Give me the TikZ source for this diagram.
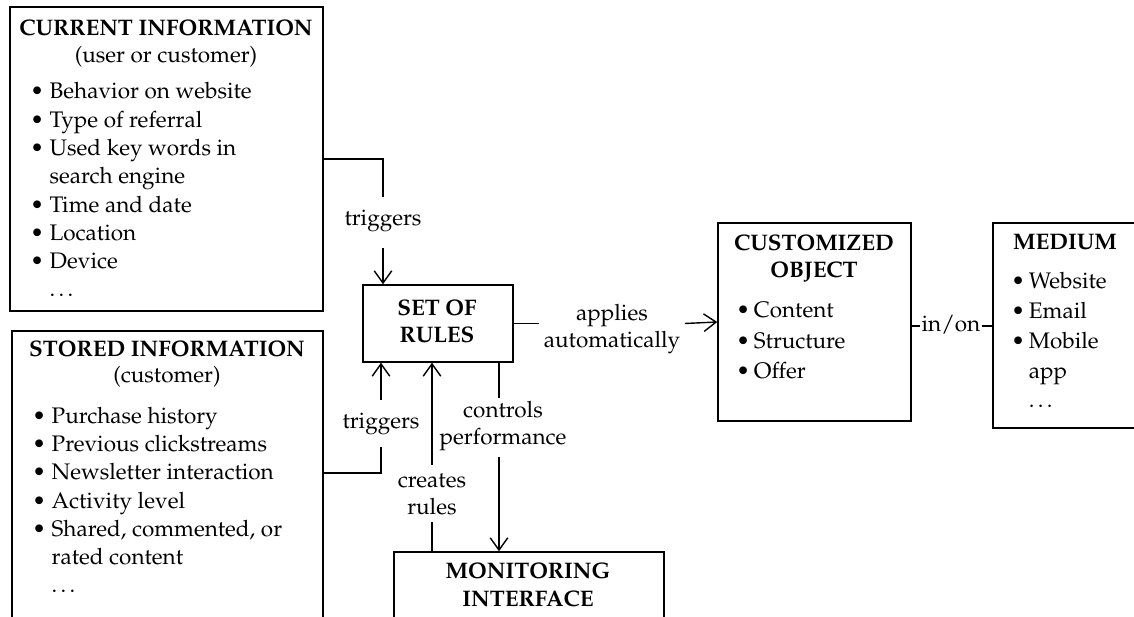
\documentclass[tikz,border=0pt]{standalone}
\usepackage[T1]{fontenc}
\usepackage{mathpazo}
\usetikzlibrary{arrows.meta,positioning,fit,calc}

\newcommand{\itm}[1][11pt]{\makebox[#1][l]{\textbullet}}
\newcommand{\cnt}[1][11pt]{\hspace*{#1}}

\tikzset{
  box/.style={draw, line width=0.8pt, inner sep=0pt},
  wire/.style={line width=0.8pt},
  conn/.style={line width=0.8pt, -{Straight Barb[length=7pt,width=10pt]}},
  ttl/.style={inner sep=0pt, anchor=base, align=center, font=\bfseries\fontsize{12.8}{#1}\selectfont},
  lst/.style={inner sep=0pt, anchor=base west, align=left, font=\fontsize{12.8}{#1}\selectfont},
  lbl/.style 2 args={inner xsep=2.5pt, inner ysep=0pt, anchor=base, align=center,
    text height=#1, text depth=#2, font=\fontsize{12.8}{15.4}\selectfont}
}

\begin{document}
\begin{tikzpicture}[x=0.02cm, y=-0.02cm]
    \useasboundingbox (0,0) rectangle (1134,617);
    \clip (0,0) rectangle (1134,617);

    % boxes
    \node[box, fit={(10,7) (323,311)}] (current) {};
    \node[box, fit={(12,331) (323,650)}] (stored) {};
    \node[box, fit={(363,285) (513,362)}] (rules) {};
    \node[box, fit={(394,552) (664,650)}] (monitor) {};
    \node[box, fit={(718,223) (911,421)}] (custom) {};
    \node[box, fit={(993,223) (1160,428)}] (medium) {};

    % current information (base = last line)
    \node[ttl=15.4pt] (curT) at (166,63) {CURRENT INFORMATION\\{\mdseries (user or customer)}};
    \node[lst=16.1pt] (curL) at (30,297) {\itm Behavior on website\\ \itm Type of referral\\
      \itm Used key words in\\ \cnt search engine\\ \itm Time and date\\ \itm Location\\
      \itm Device\\ \cnt\dots};

    % stored information
    \node[ttl=15pt] (stoT) at (167,383) {STORED INFORMATION\\{\mdseries (customer)}};
    \node[lst=16.1pt] (stoL) at (32,593) {\itm Purchase history\\ \itm Previous clickstreams\\
      \itm Newsletter interaction\\ \itm Activity level\\ \itm Shared, commented, or\\
      \cnt rated content\\ \cnt\dots};

    % rules and monitoring
    \node[ttl=15.4pt] (rulT) at (437,343) {SET OF\\RULES};
    \node[ttl=16.5pt] (monT) at (528,607) {MONITORING\\INTERFACE};

    % customized object and medium
    \node[ttl=15.9pt] (cusT) at (814,278) {CUSTOMIZED\\OBJECT};
    \node[lst=17.6pt] (cusL) at (736,379) {\itm[10pt]Content\\ \itm[10pt]Structure\\ \itm[10pt]Offer};
    \node[ttl=15pt] (medT) at (1065,250) {MEDIUM};
    \node[lst=17pt] (medL) at (1011,408) {\itm[10pt]Website\\ \itm[10pt]Email\\
      \itm[10pt]Mobile\\ \cnt[10pt]app\\ \cnt[10pt]\dots};

    % connector labels
    \node[lbl={16.5pt}{12.5pt}] (trigA) at (383,226) {triggers};
    \node[lbl={16.5pt}{10.2pt}] (trigB) at (381,429) {triggers};
    \node[lbl={28.5pt}{4pt}] (create) at (432,515) {creates\\rules};
    \node[lbl={26.7pt}{6.8pt}] (ctrl) at (503,445) {controls\\performance};
    \node[lbl={9pt}{4pt}] (apply) at (612,348) {applies\\automatically};
    \node[lbl={9pt}{4pt}, inner xsep=0.6pt] (inon) at (951,332) {in/on};
    \coordinate (cx) at (499,0);

    % connectors
    \draw[wire] (current.east) -| (trigA.north);
    \draw[conn] (trigA.south) -- (trigA.south |- rules.north);
    \draw[wire] (stored.east |- 0,473) -| (trigB.south);
    \draw[conn] (trigB.north) -- (trigB.north |- rules.south);
    \draw[wire] (monitor.north -| create.south) -- (create.south);
    \draw[conn] (create.north) -- (create.north |- rules.south);
    \draw[wire] (rules.south -| cx) -- (ctrl.north -| cx);
    \draw[conn] (ctrl.south -| cx) -- (monitor.north -| cx);
    \draw[wire] (rules.east) -- (rules.east -| apply.west);
    \draw[conn] (rules.east -| apply.east) -- (custom.west);
    \draw[wire] (custom.east |- 0,326) -- (inon.west |- 0,326);
    \draw[wire] (inon.east |- 0,326) -- (medium.west |- 0,326);
\end{tikzpicture}
\end{document}
